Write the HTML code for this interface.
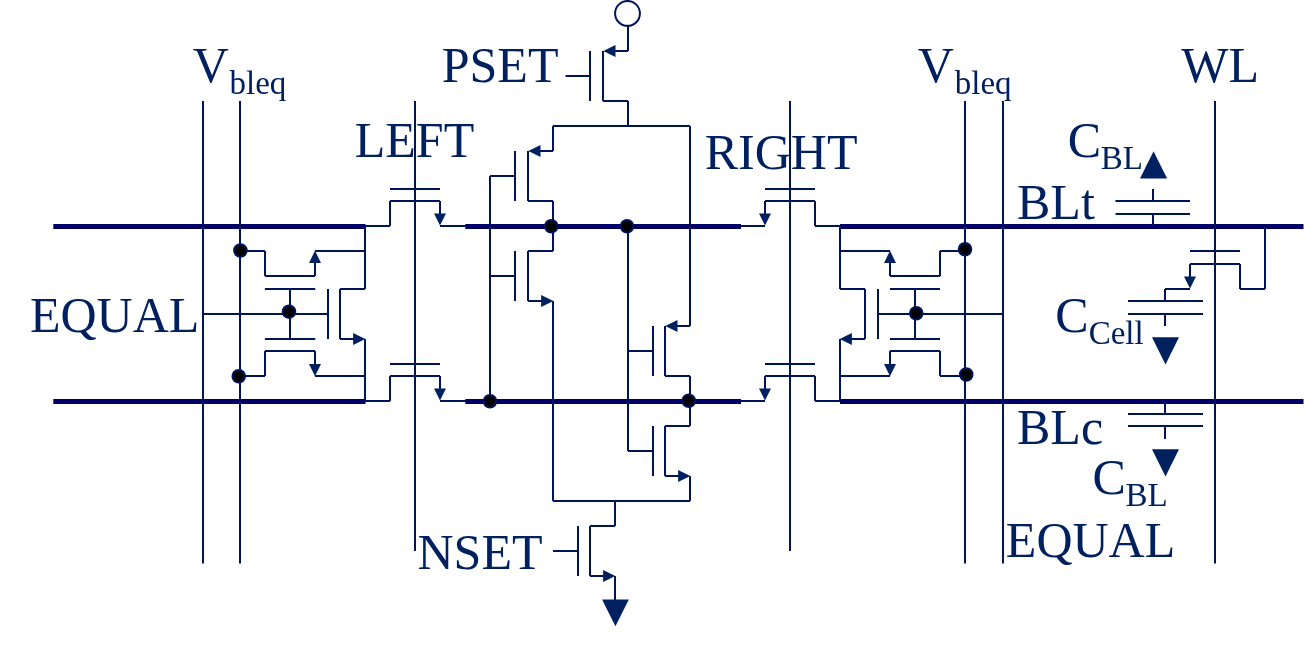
<!DOCTYPE html>
<html><head><meta charset="utf-8"><title>Sense amplifier</title>
<style>
html,body{margin:0;padding:0;background:#fff;overflow:hidden}
svg{display:block}
text{font-family:"Liberation Serif",serif;fill:#002060;font-kerning:none}
</style></head><body>
<svg width="1306" height="654" viewBox="0 0 1306 654">
<rect width="1306" height="654" fill="#fff"/>
<g stroke="#000066" stroke-width="5" fill="none">
<path d="M53.3,226.5 H365.5"/>
<path d="M53.3,401.5 H365.5"/>
<path d="M465.3,226.5 H741"/>
<path d="M465.3,401.5 H741"/>
<path d="M840,226.5 H1303.5"/>
<path d="M840,401.5 H1303.5"/>
</g>
<g stroke="#00145a" stroke-width="2" fill="none" stroke-linejoin="miter">
<path d="M203,101L203,563.5 M240,101L240,563.5 M415,101L415,551 M790,101L790,551 M965,101L965,563.5 M1003,101L1003,563.5 M1215,101L1215,563.5 M240,251L265,251 M265,251L265,276 M265,276L315,276 M315,276L315,257 M315,251L365,251 M264.9,289L315.2,289 M264.9,339L315.2,339 M290,289L290,339 M203,314L328,314 M328,289L328,339 M365,226L365,289 M365,289L340,289 M340,289L340,339 M340,339L359,339 M365,339L365,401 M240,376L265,376 M265,376L265,351 M265,351L315,351 M315,351L315,370 M315,376L365,376 M365,226L390,226 M390,226L390,201 M390,201L440,201 M440,201L440,220 M440,226L466,226 M390,189L440,189 M365,401L390,401 M390,401L390,376 M390,376L440,376 M440,376L440,395 M440,401L466,401 M390,364L440,364 M628,26L628,51 M628,51L609,51 M603,51L603,101 M603,101L628,101 M628,101L628,126 M590,51L590,101 M565.5,76L590,76 M553,126L690,126 M553,126L553,151 M553,151L534,151 M528,151L528,201 M528,201L553,201 M553,201L553,226 M515,151L515,201 M490,176L515,176 M490,176L490,401 M553,226L553,251 M553,251L528,251 M528,251L528,301 M528,301L547,301 M553,301L553,501 M515,251L515,301 M490,276L515,276 M628,226L628,451 M628,451L653,451 M628,351L653,351 M690,126L690,326 M690,326L671,326 M665,326L665,376 M665,376L690,376 M690,376L690,401 M653,326L653,376 M690,401L690,426 M690,426L665,426 M665,426L665,476 M665,476L684,476 M690,476L690,501 M653,426L653,476 M553,501L690,501 M615,501L615,526 M615,526L590,526 M590,526L590,576 M590,576L609,576 M615,576L615,600 M578,526L578,576 M553,551L578,551 M740,226L765,226 M765,220L765,201 M765,201L815,201 M815,201L815,226 M815,226L840,226 M765,189L815,189 M740,401L765,401 M765,395L765,376 M765,376L815,376 M815,376L815,401 M815,401L840,401 M765,364L815,364 M840,226L840,289 M840,289L865,289 M865,289L865,339 M865,339L846,339 M840,339L840,401 M878,289L878,339 M878,314L1003,314 M890,289L940,289 M890,339L940,339 M915,289L915,339 M840,251L890,251 M890,257L890,276 M890,276L940,276 M940,276L940,251 M940,251L965,251 M840,376L890,376 M890,370L890,351 M890,351L940,351 M940,351L940,376 M940,376L965,376 M1153,189L1153,201 M1115.5,201L1190,201 M1115.5,214L1190,214 M1153,214L1153,226 M1265,226L1265,289 M1265,289L1240,289 M1240,289L1240,264 M1240,264L1190,264 M1190,264L1190,282.5 M1190,251L1240,251 M1190,289L1165,289 M1165,289L1165,301 M1128,301L1203,301 M1128,314L1203,314 M1165,314L1165,326 M1165,401L1165,414 M1128,414L1203,414 M1128,426L1203,426 M1165,426L1165,439"/>
<circle cx="627.5" cy="13.4" r="12.4" fill="#fff"/>
</g>
<g fill="#002060" stroke="none">
<polygon points="315,250.7 309,262.9 321,262.9"/>
<polygon points="365.3,339 353.1,333 353.1,345"/>
<polygon points="315,376.3 309,364.1 321,364.1"/>
<polygon points="440,225.6 434,213.4 446,213.4"/>
<polygon points="440,400.6 434,388.4 446,388.4"/>
<polygon points="603.3,51 615.5,45 615.5,57"/>
<polygon points="528.3,151 540.5,145 540.5,157"/>
<polygon points="553.3,301 541.1,295 541.1,307"/>
<polygon points="665.3,326 677.5,320 677.5,332"/>
<polygon points="690.3,476 678.1,470 678.1,482"/>
<polygon points="615.3,576 603.1,570 603.1,582"/>
<polygon points="765,225.6 759,213.4 771,213.4"/>
<polygon points="765,400.6 759,388.4 771,388.4"/>
<polygon points="839.7,339 851.9,333 851.9,345"/>
<polygon points="890,250.7 884,262.9 896,262.9"/>
<polygon points="890,376.3 884,364.1 896,364.1"/>
<polygon points="1190,288.6 1184,276.4 1196,276.4"/>
</g>
<g fill="#002060" stroke="none">
<polygon points="602.1,599.5 628.8,599.5 615.45,626.3"/>
<polygon points="1153.55,151.2 1140,178.4 1167.1,178.4"/>
<polygon points="1152,337.2 1179,337.2 1165.5,364.6"/>
<polygon points="1152,449.2 1179,449.2 1165.5,476.6"/>
</g>
<g fill="#000" stroke="#00145a" stroke-width="2">
<circle cx="240.4" cy="250.5" r="6.3"/>
<circle cx="289" cy="311.7" r="6.3"/>
<circle cx="238.75" cy="376.25" r="6.3"/>
<circle cx="551.25" cy="226.25" r="6.3"/>
<circle cx="627" cy="226.25" r="6.3"/>
<circle cx="490" cy="401.25" r="6.3"/>
<circle cx="688.75" cy="400.75" r="6.3"/>
<circle cx="916.25" cy="313.25" r="6.3"/>
<circle cx="965" cy="249.25" r="6.3"/>
<circle cx="966.25" cy="374.5" r="6.3"/>
</g>
<defs><filter id="nf" x="0" y="0" width="1306" height="654" filterUnits="userSpaceOnUse" color-interpolation-filters="sRGB"><feOffset dx="0" dy="0"/></filter></defs>
<g filter="url(#nf)">
<text x="192.75" y="82" font-size="50">V</text>
<text x="229.5" y="94" font-size="33">bleq</text>
<text x="441.75" y="82" font-size="50">PSET</text>
<text x="354.75" y="157" font-size="50">LEFT</text>
<text x="704.75" y="169" font-size="50">RIGHT</text>
<text x="917.75" y="82" font-size="50">V</text>
<text x="954.75" y="94" font-size="33">bleq</text>
<text x="1181.25" y="82" font-size="50">WL</text>
<text x="1067.75" y="157" font-size="50">C</text>
<text x="1100.75" y="169" font-size="33">BL</text>
<text x="1017" y="219" font-size="50">BLt</text>
<text x="1055.25" y="332" font-size="50">C</text>
<text x="1088.65" y="343.6" font-size="33">Cell</text>
<text x="1017" y="444" font-size="50">BLc</text>
<text x="1092.4" y="494" font-size="50">C</text>
<text x="1125.5" y="506" font-size="33">BL</text>
<text x="1005.85" y="556.8" font-size="50">EQUAL</text>
<text x="29.9" y="332" font-size="50">EQUAL</text>
<text x="417.5" y="569" font-size="50">NSET</text>
</g>
</svg>
</body></html>
